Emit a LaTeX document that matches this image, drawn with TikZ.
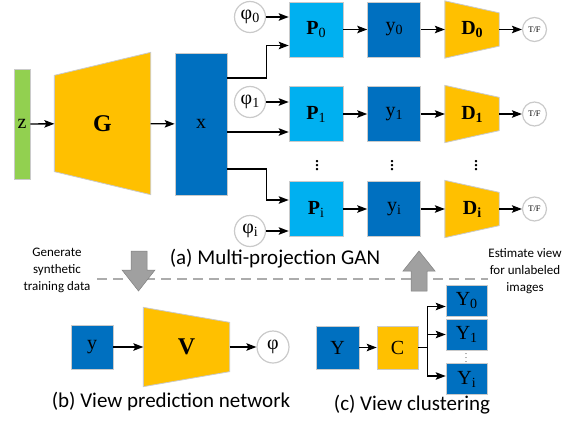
\documentclass[tikz,border=0pt]{standalone}
\usepackage{fontspec}
\setmainfont{Liberation Serif}
\setsansfont{Carlito}
\usepackage{amsmath}
\usepackage{tikz}
\usetikzlibrary{arrows.meta,calc,backgrounds}

\definecolor{ganyellow}{HTML}{FFC000}
\definecolor{gangreen}{HTML}{92D050}
\definecolor{ganblue}{HTML}{0070C0}
\definecolor{ganlight}{HTML}{00B0F0}
\definecolor{edgegray}{HTML}{CACACA}
\definecolor{bigarrow}{HTML}{A0A0A0}

\newcommand{\lbl}{\fontsize{20}{22}\selectfont}
\newcommand{\lowidx}[1]{\raisebox{-3pt}{\fontsize{14}{14}\selectfont #1}}
% yellow trapezoid behind a node: node, inset left, inset right
\newcommand{\trapfill}[3]{%
  \filldraw[fill=ganyellow,draw=edgegray,line width=0.8pt]
    ($(#1.north west)+(0,#2)$) -- ($(#1.north east)+(0,#3)$) --
    ($(#1.south east)+(0,-#3)$) -- ($(#1.south west)+(0,-#2)$) -- cycle;}

\begin{document}
\begin{tikzpicture}[x=1pt,y=-1pt,>={Stealth[length=10pt,width=7.5pt,inset=2pt]},line width=1.3pt,node distance=78pt]

    \tikzstyle{every node}=[font=\lbl,inner sep=0pt]
    \tikzstyle{box}=[draw=edgegray,line width=0.6pt]
    \tikzstyle{pbox}=[box,fill=ganlight,minimum width=54,minimum height=55]
    \tikzstyle{ybox}=[box,fill=ganblue,minimum width=53,minimum height=55]
    \tikzstyle{dnet}=[minimum width=53,minimum height=56]
    \tikzstyle{ang}=[circle,draw=edgegray,line width=1.2pt,fill=white,minimum size=31]
    \tikzstyle{tf}=[circle,draw=edgegray,line width=1.2pt,fill=white,minimum size=24,font=\fontsize{8.5}{9}\selectfont]
    \tikzstyle{caption}=[font=\sffamily\fontsize{21}{24}\selectfont]
    \tikzstyle{note}=[font=\sffamily\fontsize{13}{17}\selectfont,align=center]

    \useasboundingbox (0,0) rectangle (570,423);

    % (a) multi-projection GAN
    \node[box,fill=gangreen,minimum width=16,minimum height=110] (z) at (22,124) {z};
    \node[minimum width=95,minimum height=141,font=\bfseries\fontsize{24}{24}\selectfont] (G) at (102.5,123.5) {G};
    \node[box,fill=ganblue,minimum width=52,minimum height=142] (x) at (201,124) {x};
    \draw[->] (z) -- (G);
    \draw[->] (G) -- (x);

    \foreach \r/\yy/\py in {0/29.5/17, 1/114/102, i/209/231}{
      \node[pbox] (P\r) at (316,\yy) {\textbf{P}\lowidx{\r}};
      \node[ybox] (y\r) [right of=P\r] {y\lowidx{\r}};
      \node[dnet,font=\bfseries\lbl] (D\r) [right of=y\r] {D\lowidx{\r}};
      \node[tf] (tf\r) [right of=D\r,node distance=62.5pt] {T/F};
      \node[ang] (phi\r) at (250,\py) {φ\lowidx{\r}};
      \draw[->] (phi\r) -- (phi\r -| P\r.west);
      \draw[->] (P\r) -- (y\r);
      \draw[->] (y\r) -- (D\r);
      \draw[->] (D\r) -- (tf\r);
    }

    \draw[->] ([yshift=46pt]x.east) -- ++(39,0) |- ([yshift=-16pt]P0.west);
    \draw[->] ([yshift=-8pt]x.east) -- ([yshift=-8pt]x.east -| P1.west);
    \draw[->] ([yshift=-45pt]x.east) -- ++(39,0) |- ([yshift=9pt]Pi.west);

    \node (vdP) at (317,163) {$\vdots$};
    \node (vdy) at (392,163) {$\vdots$};
    \node (vdD) at (476,163) {$\vdots$};

    \node[caption] (capa) at (275,259) {(a) Multi-projection GAN};

    % divider and big arrows
    \draw[line width=1.3pt,color=edgegray!85!black,dash pattern=on 10pt off 6pt] (97,279) -- (488,279);
    \filldraw[fill=bigarrow,draw=bigarrow!80!black,line width=0.5pt]
      (131,251) -- (147,251) -- (147,270) -- (155,270) -- (138.5,291) -- (122,270) -- (131,270) -- cycle;
    \filldraw[fill=bigarrow,draw=bigarrow!80!black,line width=0.5pt]
      (411,291) -- (427,291) -- (427,271) -- (435,271) -- (419,251) -- (403,271) -- (411,271) -- cycle;
    \node[note] (gen) at (57,270) {Generate\\synthetic\\training data};
    \node[note] (est) at (525,271) {Estimate view\\for unlabeled\\images};

    % (b) view prediction network
    \node[box,fill=ganblue,minimum width=42,minimum height=44] (yb) at (92,347) {y};
    \node[minimum width=85,minimum height=78,font=\bfseries\fontsize{24}{24}\selectfont] (V) at (186.5,347) {V};
    \node[ang,minimum size=32] (phib) at (273,347) {φ};
    \draw[->] (yb) -- (V);
    \draw[->] (V) -- (phib);
    \node[caption] (capb) at (171,402) {(b) View prediction network};

    % (c) view clustering
    \node[box,fill=ganblue,minimum width=43,minimum height=43] (Yc) at (337.5,347.5) {Y};
    \node[box,fill=ganyellow,minimum width=41,minimum height=43] (C) at (397.5,347.5) {C};
    \node[box,fill=ganblue,minimum width=41,minimum height=31] (Y0) at (466.5,300.5) {Y\lowidx{0}};
    \node[box,fill=ganblue,minimum width=41,minimum height=31] (Y1) at (466.5,334.5) {Y\lowidx{1}};
    \node[box,fill=ganblue,minimum width=41,minimum height=31] (Yi) at (466.5,379) {Y\lowidx{i}};
    \node[font=\fontsize{8}{8}\selectfont] (vdc) at (466,355) {$\vdots$};
    \draw[->] (Yc) -- (C);
    \draw (C.east) -- ++(9,0) coordinate (split);
    \draw[->] (split) |- ([yshift=-6pt]Y0.west);
    \draw[->] (split) |- (Y1.west);
    \draw[->] (split) |- ([yshift=3pt]Yi.west);
    \node[caption] (capc) at (412,405) {(c) View clustering};

    \begin{scope}[on background layer]
      \trapfill{G}{23}{0}
      \foreach \r in {0,1,i}{\trapfill{D\r}{0}{12}}
      \trapfill{V}{0}{15}
    \end{scope}
\end{tikzpicture}
\end{document}
